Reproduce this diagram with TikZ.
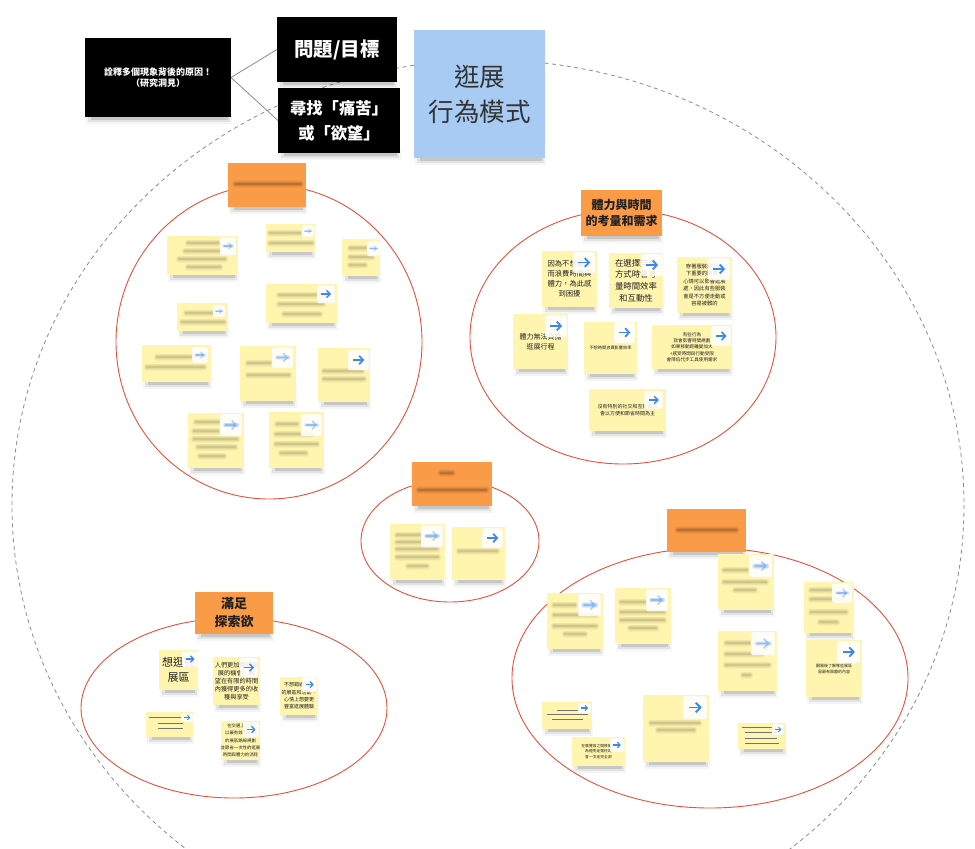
\documentclass[tikz,border=0pt]{standalone}
\usepackage{fontspec}
\setmainfont{Noto Sans CJK TC}
\usetikzlibrary{arrows.meta,calc}
\definecolor{stickyc}{HTML}{FFF5AE}
\definecolor{orangec}{HTML}{FA9B48}
\definecolor{redc}{HTML}{E9503A}
\definecolor{bluebox}{HTML}{A7CBF3}
\definecolor{arrowc}{HTML}{3A86F5}
\definecolor{dashc}{HTML}{8C8C8C}
\definecolor{txtc}{HTML}{222222}
\definecolor{blurc}{HTML}{4A4530}
\definecolor{bluro}{HTML}{5A3010}
\newcommand\fz[2]{\fontsize{#1}{#2}\selectfont}
\newcommand\shbox[4]{%
 \fill[black,opacity=0.04] ({#1+1},{#4-3}) rectangle ({#3+1},{#4+6.5});
 \fill[black,opacity=0.07] ({#1+3},{#4-3}) rectangle ({#3-1},{#4+4.5});
 \fill[black,opacity=0.12] ({#1+6},{#4-3}) rectangle ({#3-3},{#4+2.5});
}
\newcommand\mycard[7]{%
 \shbox{#3}{#4}{#5}{#6}%
 \node[#1, minimum width={(#5-#3)*1pt}, minimum height={(#6-#4)*1pt}] (#2) at ({(#3+#5)/2},{(#4+#6)/2}) {#7};%
}
\newcommand\bl[3]{\draw[bz0] (#1,#3) -- (#2,#3); \draw[bz1] (#1,#3) -- (#2,#3); \draw[bz2] (#1,#3) -- (#2,#3); \draw[bz3] (#1,#3) -- (#2,#3);}
\newcommand\blo[3]{\draw[bo0] (#1,#3) -- (#2,#3); \draw[bo1] (#1,#3) -- (#2,#3); \draw[bo2] (#1,#3) -- (#2,#3); \draw[bo3] (#1,#3) -- (#2,#3);}
\newcommand\gl[3]{\draw[black!55, line width=1pt] (#1,#3) -- (#2,#3);}
\newcommand\arrnode[5]{%
 \pgfmathsetmacro\aw{#4-#2}%
 \pgfmathsetmacro\lw{\aw*0.08}%
 \pgfmathsetmacro\lwa{\aw*0.22}%
 \pgfmathsetmacro\lwb{\aw*0.14}%
 \pgfmathsetmacro\xa{\aw*0.24}%
 \pgfmathsetmacro\xb{\aw*0.22}%
 \node[arrbg, minimum width=\aw pt, minimum height={(#5-#3)*1pt}] (#1) at ({(#2+#4)/2},{(#3+#5)/2}) {};%
}
\newcommand\arrC[5]{%
 \arrnode{#1}{#2}{#3}{#4}{#5}%
 \draw[arrowc, line width=\lw pt, -{Straight Barb[length=0pt 2.4, width=0pt 5]}] ([xshift=\xa pt]#1.west) -- ([xshift=-\xb pt]#1.east);%
}
\newcommand\arrF[5]{%
 \arrnode{#1}{#2}{#3}{#4}{#5}%
 \draw[arrowc, draw opacity=0.12, line width=\lwa pt, line cap=round] ([xshift=\xa pt]#1.west) -- ([xshift=-\xb pt]#1.east);%
 \draw[arrowc, draw opacity=0.2, line width=\lwb pt, line cap=round] ([xshift=\xa pt]#1.west) -- ([xshift=-\xb pt]#1.east);%
 \draw[arrowc, draw opacity=0.35, line width=\lw pt, -{Straight Barb[length=0pt 2.4, width=0pt 5]}] ([xshift=\xa pt]#1.west) -- ([xshift=-\xb pt]#1.east);%
}
\begin{document}
\begin{tikzpicture}[x=1pt,y=-1pt,
  cardbase/.style={inner sep=0pt, outer sep=0pt, align=center, text=txtc},
  sticky/.style={cardbase, fill=stickyc},
  olabel/.style={cardbase, fill=orangec, font=\bfseries\fz{12}{16}},
  blk/.style={cardbase, fill=black, text=white},
  bluecard/.style={cardbase, fill=bluebox, text=black!80},
  arrbg/.style={inner sep=0pt, outer sep=0pt, fill=white, fill opacity=0.88, draw=black!8, line width=0.3pt, rounded corners=1.5pt},
  cluster/.style={draw=redc, line width=0.9pt},
  outerring/.style={draw=dashc, line width=0.8pt, dash pattern=on 4pt off 3.5pt},
  conn/.style={draw=black!45, line width=0.8pt},
  bz0/.style={line width=7pt, line cap=round, draw=blurc, draw opacity=0.035},
  bz1/.style={line width=5.5pt, line cap=round, draw=blurc, draw opacity=0.05},
  bz2/.style={line width=4pt, line cap=round, draw=blurc, draw opacity=0.08},
  bz3/.style={line width=2.4pt, line cap=round, draw=blurc, draw opacity=0.12},
  bo0/.style={line width=8pt, line cap=round, draw=bluro, draw opacity=0.05},
  bo1/.style={line width=6pt, line cap=round, draw=bluro, draw opacity=0.08},
  bo2/.style={line width=4.2pt, line cap=round, draw=bluro, draw opacity=0.13},
  bo3/.style={line width=2.6pt, line cap=round, draw=bluro, draw opacity=0.2},
]
\useasboundingbox (0,0) rectangle (975,849);
\fill[white] (0,0) rectangle (975,849);
\begin{scope}
\clip (0,0) rectangle (975,849);
\draw[outerring] (488,505) ellipse [x radius=476, y radius=445];
\end{scope}

% cluster rings
\draw[cluster] (269,342) ellipse [x radius=153, y radius=157];
\draw[cluster] (623,337) ellipse [x radius=153, y radius=127];
\draw[cluster] (450,541) ellipse [x radius=89, y radius=61];
\draw[cluster] (234,708) ellipse [x radius=153, y radius=90];
\draw[cluster] (710,678) ellipse [x radius=198, y radius=130];

% header cards
\mycard{blk,font=\bfseries\fz{9}{11}}{insight}{85}{38}{231}{117}{詮釋多個現象背後的原因！\\（研究洞見）}
\mycard{blk,font=\bfseries\fz{19.5}{23}}{goal}{277}{17}{397}{82}{問題/目標}
\mycard{blk,font=\bfseries\fz{16.3}{25}}{pain}{278}{88}{400}{153}{尋找「痛苦」\\或「欲望」}
\mycard{bluecard,font=\fz{25.5}{35}}{theme}{414}{30}{545}{158}{逛展\\行為模式}
\draw[conn] (insight.east) -- (goal.west);
\draw[conn] (insight.east) -- (pain.west);

% orange labels
\mycard{olabel}{t1}{228}{163}{306}{207}{}
\blo{236}{300}{184}
\mycard{olabel}{t2}{581}{190}{662}{236}{體力與時間\\的考量和需求}
\mycard{olabel}{t3}{412}{462}{492}{506}{}
\blo{441}{452}{473}
\blo{419}{486}{490}
\mycard{olabel,font=\bfseries\fz{13}{18}}{t4}{195}{592}{273}{634}{滿足\\探索欲}
\mycard{olabel}{t5}{667}{509}{746}{552}{}
\blo{678}{736}{530}

% cluster 1 (blurred)
\mycard{sticky}{a1}{167}{236}{238}{275}{}
\bl{188}{218}{243}\bl{185}{220}{251}\bl{179}{225}{259}\bl{188}{220}{267}
\arrF{a1a}{220}{237}{236}{255}
\mycard{sticky}{a2}{266}{224}{315}{252}{}
\bl{270}{300}{233}\bl{270}{312}{243}
\arrF{a2a}{302}{225}{314}{237}
\mycard{sticky}{a3}{342}{239}{380}{276}{}
\bl{350}{374}{248}\bl{350}{372}{257}\bl{350}{365}{265}
\arrF{a3a}{367}{241}{380}{256}
\mycard{sticky}{a4}{177}{303}{228}{331}{}
\bl{186}{221}{313}\bl{182}{224}{322}
\arrF{a4a}{213}{305}{225}{317}
\mycard{sticky}{a5}{266}{284}{337}{323}{}
\bl{279}{325}{295}\bl{279}{323}{304}\bl{284}{320}{314}
\arrC{a5a}{317}{285}{335}{303}
\mycard{sticky}{a6}{142}{345}{211}{382}{}
\bl{157}{197}{357}\bl{147}{204}{367}
\arrF{a6a}{192}{347}{208}{363}
\mycard{sticky}{a7}{240}{346}{296}{401}{}
\bl{248}{270}{363}\bl{248}{289}{375}
\arrF{a7a}{272}{347}{293}{368}
\mycard{sticky}{a8}{318}{348}{370}{402}{}
\bl{324}{362}{371}\bl{324}{364}{379}
\arrC{a8a}{348}{350}{369}{370}
\mycard{sticky}{a9}{188}{413}{244}{468}{}
\bl{196}{219}{422}\bl{194}{218}{431}\bl{194}{237}{439}\bl{198}{235}{447}\bl{200}{224}{456}
\arrF{a9a}{220}{414}{242}{436}
\mycard{sticky}{a10}{269}{412}{324}{468}{}
\bl{277}{297}{424}\bl{276}{312}{434}\bl{276}{317}{444}\bl{281}{306}{453}
\arrF{a10a}{301}{414}{322}{436}

% cluster 2
\mycard{sticky,font=\fz{7.3}{10}}{n1}{542}{251}{597}{307}{因為不想走路\\而浪費時間與\\體力，為此感\\到困擾}
\arrC{n1a}{573}{252}{595}{273}
\mycard{sticky,font=\fz{8.4}{11.7}}{n2}{609}{253}{663}{308}{在選擇交通\\方式時會考\\量時間效率\\和互動性}
\arrC{n2a}{641}{254}{663}{276}
\mycard{sticky,font=\fz{5.3}{7.5}}{n3}{677}{257}{732}{313}{穿著服裝是逛展\\下重要的選擇，\\心情可以影響逛展\\處，因此有些服裝\\會是不方便走動或\\容易被髒的}
\arrC{n3a}{708}{258}{730}{280}
\mycard{sticky,font=\fz{7}{10}}{n4}{513}{314}{568}{369}{體力無法負擔\\逛展行程}
\arrC{n4a}{545}{315}{567}{337}
\mycard{sticky,font=\fz{4.2}{6}}{n5}{584}{322}{637}{374}{不想時間浪費影響效率}
\arrC{n5a}{614}{322}{635}{343}
\mycard{sticky,font=\fz{4.6}{6.3}}{n6}{652}{325}{732}{369}{有些行為\\就會影響時間規劃\\如果移動距離變加大\\+感受時間與行動受限\\會降低代步工具使用需求}
\arrC{n6a}{711}{326}{731}{346}
\mycard{sticky,font=\fz{5}{7.5}}{n7}{589}{389}{666}{431}{沒有特別的社交和互動需求\\會以方便和節省時間為主}
\arrC{n7a}{644}{391}{663}{409}

% cluster 3
\mycard{sticky}{b1}{390}{524}{445}{580}{}
\bl{397}{420}{535}\bl{397}{422}{542}\bl{397}{437}{549}\bl{397}{438}{557}\bl{408}{427}{566}
\arrF{b1a}{421}{525}{443}{547}
\mycard{sticky}{b2}{452}{527}{505}{580}{}
\bl{459}{497}{551}
\arrC{b2a}{482}{528}{503}{548}

% cluster 4
\mycard{sticky,font=\fz{11}{15}}{c1}{159}{650}{198}{690}{想逛完\\展區}
\arrC{c1a}{182}{651}{198}{667}
\mycard{sticky,font=\fz{6.2}{8}}{c2}{213}{657}{260}{705}{人們更加重視逛\\展的機會，希\\望在有限的時間\\內獲得更多的收\\穫與享受}
\arrC{c2a}{240}{658}{258}{677}
\mycard{sticky,font=\fz{5}{7.3}}{c3}{280}{677}{318}{715}{不想錯過任何\\的展區和活動，\\心情上想要更\\豐富逛展體驗}
\arrC{c3a}{302}{677}{317}{692}
\mycard{sticky}{c4}{146}{712}{193}{737}{}
\gl{149}{181}{717}\gl{158}{183}{723}\gl{158}{183}{728}
\arrC{c4a}{181}{713}{193}{722}
\mycard{sticky,font=\fz{4.4}{7.2}}{c5}{221}{721}{260}{760}{在交通上比較\\以最有效率參觀\\的展區路線規劃\\並節省一次性的逛展\\時間與體力的消耗}
\arrC{c5a}{243}{722}{259}{737}

% cluster 5
\mycard{sticky}{d1}{547}{593}{603}{649}{}
\bl{554}{575}{605}\bl{554}{596}{615}\bl{554}{596}{626}\bl{565}{585}{634}
\arrF{d1a}{578}{594}{601}{616}
\mycard{sticky}{d2}{615}{588}{671}{644}{}
\bl{621}{646}{602}\bl{621}{664}{612}\bl{621}{664}{620}\bl{630}{656}{628}
\arrF{d2a}{646}{589}{668}{611}
\mycard{sticky}{d3}{718}{554}{774}{610}{}
\bl{724}{747}{570}\bl{724}{766}{582}\bl{735}{755}{590}
\arrF{d3a}{749}{555}{772}{577}
\mycard{sticky}{d4}{804}{582}{854}{633}{}
\bl{811}{832}{590}\bl{811}{846}{599}\bl{811}{846}{612}\bl{820}{837}{622}
\arrF{d4a}{832}{583}{852}{603}
\mycard{sticky}{d5}{718}{631}{777}{691}{}
\bl{726}{750}{643}\bl{726}{762}{654}\bl{726}{769}{665}\bl{743}{750}{675}
\arrF{d5a}{751}{632}{775}{655}
\mycard{sticky,font=\fz{4}{6}}{d6}{806}{640}{862}{697}{觀展後了解哪些展區\\是最有興趣的內容}
\arrC{d6a}{837}{641}{860}{663}
\mycard{sticky}{d7}{542}{702}{592}{729}{}
\gl{557}{578}{710}\gl{547}{588}{714}\gl{552}{583}{719}
\arrC{d7a}{578}{703}{591}{713}
\mycard{sticky,font=\fz{3.8}{5.6}}{d8}{572}{737}{625}{766}{在展覽區之間移動時\\為避免走冤枉路\\會一次走完全部}
\arrC{d8a}{610}{738}{624}{752}
\mycard{sticky}{d9}{643}{695}{709}{762}{}
\bl{651}{699}{723}\bl{658}{694}{730}
\arrC{d9a}{683}{696}{707}{719}
\mycard{sticky}{d10}{738}{723}{786}{749}{}
\gl{742}{772}{727}\gl{745}{777}{732}\gl{745}{777}{738}\gl{745}{779}{743}
\arrC{d10a}{772}{724}{784}{735}
\end{tikzpicture}
\end{document}
